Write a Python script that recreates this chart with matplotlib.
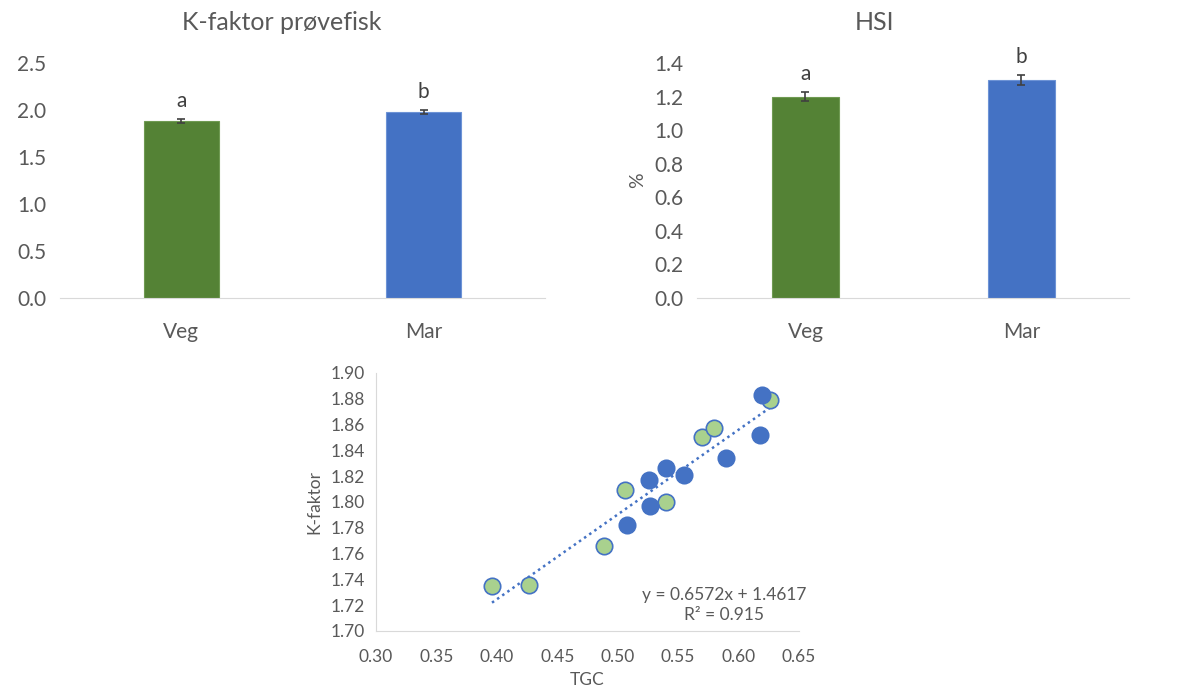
import matplotlib
matplotlib.use("Agg")
import matplotlib.pyplot as plt
import numpy as np

plt.rcParams['font.family'] = ['Lato', 'DejaVu Sans']

# bar charts
groups = ["Veg", "Mar"]
kfaktor_mean = [1.88, 1.98]
kfaktor_err = [0.022, 0.022]
hsi_mean = [1.20, 1.30]
hsi_err = [0.027, 0.029]
sig_letters = ["a", "b"]

# scatter: TGC vs K-faktor
veg_tgc = [0.396, 0.427, 0.489, 0.506, 0.540, 0.570, 0.580, 0.626]
veg_k = [1.735, 1.736, 1.766, 1.809, 1.800, 1.850, 1.857, 1.879]
mar_tgc = [0.508, 0.526, 0.527, 0.540, 0.555, 0.590, 0.618, 0.619]
mar_k = [1.782, 1.817, 1.797, 1.826, 1.821, 1.834, 1.852, 1.883]
trend_slope = 0.6572
trend_intercept = 1.4617
trend_r2 = 0.915

GREEN = "#548235"
BLUE = "#4472C4"
LIGHTGREEN = "#A9D18E"
TXT = "#595959"
AXLINE = "#D9D9D9"

fig = plt.figure(figsize=(11.79, 6.93), dpi=100)


def bar_panel(rect, vals, errs, ylim, yticks, fmt, title, title_x, ylabel=None):
    ax = fig.add_axes(rect)
    x = np.arange(len(groups))
    ax.bar(x, vals, width=0.31, color=[GREEN, BLUE], edgecolor=["#6f9a52", "#6d93d6"],
           linewidth=0.8, zorder=2)
    ax.errorbar(x, vals, yerr=errs, fmt="none", ecolor="#404040", elinewidth=1.2,
                capsize=3, capthick=1.2, zorder=3)
    for xi, v, e, s in zip(x, vals, errs, sig_letters):
        ax.annotate(s, (xi, v + e), xytext=(0, 6), textcoords="offset points",
                    ha="center", va="bottom", fontsize=15, color="#404040")
    ax.set_xlim(-0.5, len(groups) - 0.5)
    ax.set_ylim(*ylim)
    ax.set_yticks(yticks)
    ax.set_yticklabels([fmt.format(t) for t in yticks])
    ax.set_xticks(x)
    ax.set_xticklabels(groups)
    for sp in ["top", "right", "left"]:
        ax.spines[sp].set_visible(False)
    ax.spines["bottom"].set_color(AXLINE)
    ax.tick_params(length=0, labelsize=15, colors=TXT, pad=10)
    ax.tick_params(axis="x", pad=17)
    ax.set_title(title, fontsize=18, color=TXT, pad=24, x=title_x)
    if ylabel:
        ax.set_ylabel(ylabel, fontsize=14, color=TXT, labelpad=6)
    return ax


bar_panel([0.051, 0.570, 0.411, 0.339], kfaktor_mean, kfaktor_err, (0, 2.5),
          np.arange(0, 2.51, 0.5), "{:.1f}", "K-faktor prøvefisk", 0.458)
bar_panel([0.5916, 0.570, 0.3664, 0.339], hsi_mean, hsi_err, (0, 1.4),
          np.arange(0, 1.41, 0.2), "{:.1f}", "HSI", 0.409, ylabel="%")

# scatter panel
ax = fig.add_axes([0.3189, 0.0895, 0.3588, 0.3723])
xs = np.array(veg_tgc + mar_tgc)
xl = np.array([xs.min(), xs.max()])
ax.plot(xl, trend_slope * xl + trend_intercept, linestyle=(0, (1, 1.5)), color=BLUE,
        linewidth=1.8, zorder=1)
ax.scatter(veg_tgc, veg_k, s=140, color=LIGHTGREEN, edgecolor=BLUE, linewidth=1.2, zorder=3)
ax.scatter(mar_tgc, mar_k, s=140, color=BLUE, edgecolor=BLUE, linewidth=1.2, zorder=3)
ax.set_xlim(0.30, 0.65)
ax.set_ylim(1.70, 1.90)
xt = np.arange(0.30, 0.651, 0.05)
yt = np.arange(1.70, 1.901, 0.02)
ax.set_xticks(xt)
ax.set_xticklabels(["{:.2f}".format(t) for t in xt])
ax.set_yticks(yt)
ax.set_yticklabels(["{:.2f}".format(t) for t in yt])
for sp in ["top", "right"]:
    ax.spines[sp].set_visible(False)
for sp in ["left", "bottom"]:
    ax.spines[sp].set_color(AXLINE)
ax.tick_params(length=0, labelsize=12.5, colors=TXT, pad=8)
ax.tick_params(axis="x", pad=13)
ax.set_xlabel("TGC", fontsize=12.5, color=TXT, labelpad=5)
ax.set_ylabel("K-faktor", fontsize=12.5, color=TXT, labelpad=6)
ax.text(0.823, 0.17, "y = {:.4f}x + {:.4f}\nR² = {:.3f}".format(trend_slope, trend_intercept, trend_r2),
        transform=ax.transAxes, ha="center", va="top", fontsize=12.5, color=TXT,
        linespacing=1.3)

fig.savefig("out.png", dpi=100)
